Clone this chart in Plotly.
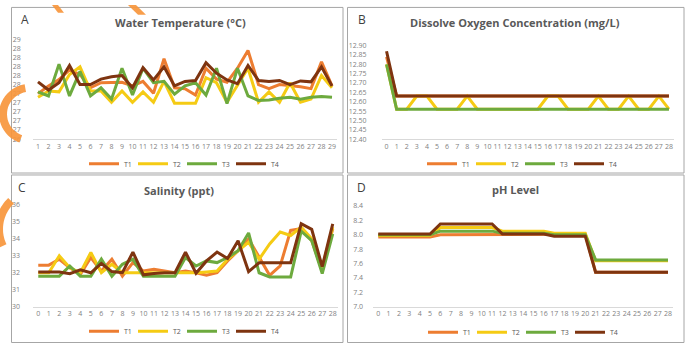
import math
import plotly.graph_objects as go

W, H = 688, 347

# ---------------- data ----------------
series_names = ["T1", "T2", "T3", "T4"]
series_colors = ["#ED7D31", "#F5CB14", "#6DAA3E", "#7E3410"]

# Panel A - water temperature (days 1..29)
temp_days = [1, 2, 3, 4, 5, 6, 7, 8, 9, 10, 11, 12, 13, 14, 15, 16, 17, 18, 19, 20,
             21, 22, 23, 24, 25, 26, 27, 28, 29]
temp_T1 = [27.40, 27.57, 27.71, 27.92, 27.82, 27.53, 27.64, 27.64, 27.65, 27.57, 27.67, 27.41, 28.17, 27.53,
           27.51, 27.37, 27.96, 27.72, 27.65, 27.96, 28.35, 27.60, 27.51, 27.60, 27.58, 27.55, 27.51, 28.10, 27.57]
temp_T2 = [27.32, 27.46, 27.44, 27.82, 27.99, 27.46, 27.46, 27.21, 27.46, 27.21, 27.44, 27.21, 27.67, 27.19,
           27.19, 27.19, 27.75, 27.64, 27.21, 27.60, 27.96, 27.21, 27.44, 27.21, 27.64, 27.21, 27.28, 27.80, 27.53]
temp_T3 = [27.44, 27.35, 28.05, 27.35, 27.89, 27.35, 27.53, 27.28, 27.96, 27.37, 27.96, 27.64, 27.67, 27.39,
           27.57, 27.64, 27.37, 27.96, 27.18, 27.96, 27.35, 27.25, 27.26, 27.30, 27.32, 27.28, 27.32, 27.34, 27.32]
temp_T4 = [27.66, 27.48, 27.64, 28.02, 27.60, 27.60, 27.72, 27.77, 27.80, 27.53, 27.97, 27.70, 27.99, 27.57,
           27.67, 27.69, 28.08, 27.85, 27.70, 27.62, 28.02, 27.69, 27.67, 27.69, 27.60, 27.68, 27.66, 27.99, 27.57]
temp_tickvals = [26.4, 26.6, 26.8, 27.0, 27.2, 27.4, 27.6, 27.8, 28.0, 28.2, 28.4, 28.6]
temp_ticktext = ["26", "27", "27", "27", "27", "27", "28", "28", "28", "28", "28", "29"]

# Days 0..28 for panels B, C, D
days = [0, 1, 2, 3, 4, 5, 6, 7, 8, 9, 10, 11, 12, 13, 14, 15, 16, 17, 18, 19, 20,
        21, 22, 23, 24, 25, 26, 27, 28]

# Panel B - dissolved oxygen
do_T1 = [12.84, 12.63, 12.63, 12.63, 12.63, 12.63, 12.63, 12.63, 12.63, 12.63, 12.63, 12.63, 12.63, 12.63,
         12.63, 12.63, 12.63, 12.63, 12.63, 12.63, 12.63, 12.63, 12.63, 12.63, 12.63, 12.63, 12.63, 12.63, 12.63]
do_T2 = [12.80, 12.56, 12.56, 12.63, 12.63, 12.56, 12.56, 12.56, 12.63, 12.56, 12.56, 12.56, 12.56, 12.56,
         12.56, 12.56, 12.63, 12.63, 12.56, 12.56, 12.56, 12.63, 12.56, 12.56, 12.63, 12.56, 12.56, 12.63, 12.56]
do_T3 = [12.80, 12.56, 12.56, 12.56, 12.56, 12.56, 12.56, 12.56, 12.56, 12.56, 12.56, 12.56, 12.56, 12.56,
         12.56, 12.56, 12.56, 12.56, 12.56, 12.56, 12.56, 12.56, 12.56, 12.56, 12.56, 12.56, 12.56, 12.56, 12.56]
do_T4 = [12.87, 12.63, 12.63, 12.63, 12.63, 12.63, 12.63, 12.63, 12.63, 12.63, 12.63, 12.63, 12.63, 12.63,
         12.63, 12.63, 12.63, 12.63, 12.63, 12.63, 12.63, 12.63, 12.63, 12.63, 12.63, 12.63, 12.63, 12.63, 12.63]

# Panel C - salinity
sal_T1 = [32.45, 32.45, 32.80, 32.30, 31.90, 32.90, 32.10, 32.80, 31.80, 32.60, 32.10, 32.20, 32.10, 32.00,
          32.10, 32.00, 31.85, 32.00, 32.70, 33.30, 34.00, 32.90, 31.85, 32.40, 34.50, 34.60, 33.90, 32.10, 34.60]
sal_T2 = [32.00, 32.00, 33.00, 32.30, 32.00, 33.20, 32.00, 32.50, 32.00, 32.00, 32.00, 32.00, 32.00, 32.00,
          32.00, 32.00, 32.05, 32.10, 32.80, 33.30, 33.80, 32.80, 33.70, 34.40, 34.20, 34.70, 34.00, 32.30, 34.70]
sal_T3 = [31.80, 31.80, 31.80, 32.40, 31.80, 31.80, 32.80, 31.80, 32.50, 32.80, 31.80, 31.80, 31.80, 31.80,
          32.90, 32.40, 32.70, 32.60, 32.90, 33.30, 34.35, 32.00, 31.75, 31.75, 31.75, 34.45, 33.90, 31.95, 34.30]
sal_T4 = [32.05, 32.05, 32.05, 31.95, 32.17, 32.00, 32.55, 32.07, 32.00, 33.22, 31.88, 31.95, 32.00, 32.00,
          33.22, 31.97, 32.70, 33.22, 32.84, 33.89, 32.07, 32.59, 32.59, 32.59, 32.59, 34.89, 34.56, 32.36, 34.89]

# Panel D - pH
ph_T1 = [7.97, 7.97, 7.97, 7.97, 7.97, 7.97, 8.00, 8.00, 8.00, 8.00, 8.00, 8.00, 8.01, 8.01,
         8.01, 8.01, 8.01, 8.01, 8.01, 8.01, 8.01, 7.48, 7.48, 7.48, 7.48, 7.48, 7.48, 7.48, 7.48]
ph_T2 = [7.99, 7.99, 7.99, 7.99, 7.99, 7.99, 8.10, 8.10, 8.10, 8.10, 8.10, 8.10, 8.05, 8.05,
         8.05, 8.05, 8.05, 8.02, 8.02, 8.02, 8.02, 7.64, 7.64, 7.64, 7.64, 7.64, 7.64, 7.64, 7.64]
ph_T3 = [8.00, 8.00, 8.00, 8.00, 8.00, 8.00, 8.05, 8.05, 8.05, 8.05, 8.05, 8.05, 8.02, 8.02,
         8.02, 8.02, 8.02, 8.00, 8.00, 8.00, 8.00, 7.65, 7.65, 7.65, 7.65, 7.65, 7.65, 7.65, 7.65]
ph_T4 = [8.01, 8.01, 8.01, 8.01, 8.01, 8.01, 8.15, 8.15, 8.15, 8.15, 8.15, 8.15, 8.01, 8.01,
         8.01, 8.01, 8.01, 7.98, 7.98, 7.98, 7.98, 7.48, 7.48, 7.48, 7.48, 7.48, 7.48, 7.48, 7.48]

panels = [
    dict(x=temp_days, ys=[temp_T1, temp_T2, temp_T3, temp_T4], title="Water Temperature (°C)", letter="A"),
    dict(x=days, ys=[do_T1, do_T2, do_T3, do_T4], title="Dissolve Oxygen Concentration (mg/L)", letter="B"),
    dict(x=days, ys=[sal_T1, sal_T2, sal_T3, sal_T4], title="Salinity (ppt)", letter="C"),
    dict(x=days, ys=[ph_T1, ph_T2, ph_T3, ph_T4], title="pH Level", letter="D"),
]

# ---------------- layout helpers (pixel -> paper) ----------------
def px(x):
    return x / W

def py(y):
    return 1 - y / H

# plot-area pixel boxes: (left, right, top, bottom)
areas = [
    (32.75, 337.25, 35.0, 137.7),
    (381.5, 674.0, 41.7, 137.7),
    (33.0, 338.0, 205.3, 309.7),
    (373.1, 673.2, 206.3, 309.7),
]
title_pos = [(180, 18), (515, 18), (179, 190), (515, 189)]
letter_pos = [(25, 15), (362, 15), (22, 187), (361, 187)]
legend_pos = [(182, 163), (520, 163), (182, 335), (521, 336)]
frames = [(11.5, 343.0, 2.5, 172.5), (347.5, 684.0, 2.5, 172.5),
          (11.5, 343.0, 174.5, 346.5), (347.5, 684.0, 174.5, 346.5)]
standoffs = [11, 14, 12, 9]

fig = go.Figure()
tickfont = dict(family="Open Sans, Liberation Sans, sans-serif", size=7, color="#7f7f7f")

for i, p in enumerate(panels):
    sfx = "" if i == 0 else str(i + 1)
    leg = "legend" if i == 0 else f"legend{i + 1}"
    for name, color, y in zip(series_names, series_colors, p["ys"]):
        fig.add_trace(go.Scatter(
            x=p["x"], y=y, mode="lines", name=name,
            line=dict(color=color, width=3),
            xaxis="x" + sfx, yaxis="y" + sfx, legend=leg,
        ))
    l, r, t, b = areas[i]
    xlo = p["x"][0] - 0.5
    xhi = p["x"][-1] + 0.5
    fig.update_layout(**{
        "xaxis" + sfx: dict(
            domain=[px(l), px(r)], anchor="y" + sfx, range=[xlo, xhi],
            tickmode="array", tickvals=p["x"], ticktext=[str(d) for d in p["x"]],
            showgrid=False, zeroline=False, showline=True, linecolor="#d9d9d9", linewidth=1,
            ticks="", tickfont=tickfont, tickangle=0, fixedrange=True,
        ),
    })
    ycfg = dict(domain=[py(b), py(t)], anchor="x" + sfx, showgrid=False, zeroline=False,
                showline=False, ticks="", tickfont=tickfont, ticklabelstandoff=standoffs[i],
                fixedrange=True)
    if i == 0:
        ycfg.update(range=[26.4, 28.6], tickmode="array", tickvals=temp_tickvals, ticktext=temp_ticktext)
    elif i == 1:
        ycfg.update(range=[12.40, 12.90], dtick=0.05, tick0=12.40, tickformat=".2f")
    elif i == 2:
        ycfg.update(range=[30, 36], dtick=1, tick0=30)
    else:
        ycfg.update(range=[7.0, 8.4], dtick=0.2, tick0=7.0, tickformat=".1f")
    fig.update_layout(**{"yaxis" + sfx: ycfg})

    lx, ly = legend_pos[i]
    fig.update_layout(**{leg: dict(
        orientation="h", x=px(lx), y=py(ly), xanchor="center", yanchor="middle",
        font=dict(family="Open Sans, Liberation Sans, sans-serif", size=7, color="#595959"),
        bgcolor="rgba(0,0,0,0)", entrywidth=4, itemwidth=30, tracegroupgap=0,
    )})

    tx, ty = title_pos[i]
    fig.add_annotation(x=px(tx), y=py(ty), xref="paper", yref="paper", showarrow=False,
                       text="<b>" + p["title"] + "</b>", xanchor="center", yanchor="middle",
                       font=dict(family="Open Sans, Liberation Sans, sans-serif", size=11, color="#595959"))
    ax_, ay_ = letter_pos[i]
    fig.add_annotation(x=px(ax_), y=py(ay_), xref="paper", yref="paper", showarrow=False,
                       text=p["letter"], xanchor="center", yanchor="middle",
                       font=dict(family="Open Sans, Liberation Sans, sans-serif", size=12, color="#404040"))
    fl, fr, ft, fb = frames[i]
    fig.add_shape(type="rect", xref="paper", yref="paper", x0=px(fl), x1=px(fr), y0=py(fb), y1=py(ft),
                  line=dict(color="#a6a6a6", width=1), fillcolor="rgba(0,0,0,0)", layer="below")

# decorative orange watermark strokes (filled polygons, pixel geometry)
orange = "rgba(247,150,60,0.92)"

def poly(points):
    return "M " + " L ".join(f"{px(x):.4f},{py(y):.4f}" for x, y in points) + " Z"

def ring(cx, cy, r_out, r_in, a0, a1, n=24):
    outer = [(cx + r_out * math.cos(math.radians(a0 + (a1 - a0) * k / n)),
              cy - r_out * math.sin(math.radians(a0 + (a1 - a0) * k / n))) for k in range(n + 1)]
    inner = [(cx + r_in * math.cos(math.radians(a1 - (a1 - a0) * k / n)),
              cy - r_in * math.sin(math.radians(a1 - (a1 - a0) * k / n))) for k in range(n + 1)]
    return poly(outer + inner)

deco_paths = [
    ring(30, 112, 31, 23, 100, 250),
    ring(40, 230, 45, 37, 135, 205),
    poly([(52, 0), (58, 0), (64, 8), (58, 8)]),
    poly([(128, 0), (136, 0), (146, 10), (138, 10)]),
]
for d in deco_paths:
    fig.add_shape(type="path", xref="paper", yref="paper", path=d,
                  line=dict(width=0), fillcolor=orange, layer="above")

fig.update_layout(
    width=W, height=H, margin=dict(l=0, r=0, t=0, b=0),
    paper_bgcolor="white", plot_bgcolor="white", showlegend=True,
)

fig.write_html("out.html")
